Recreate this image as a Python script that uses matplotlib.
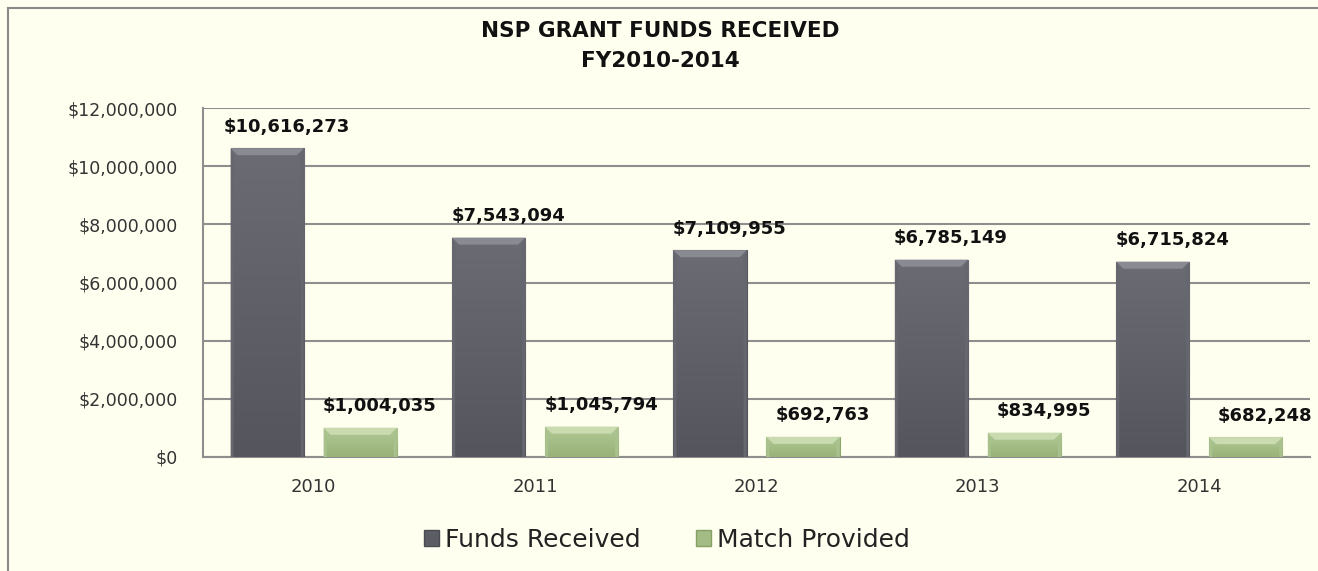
import matplotlib
matplotlib.use("Agg")
import matplotlib.pyplot as plt
import matplotlib.colors as mcolors
import numpy as np
from matplotlib.lines import Line2D
from matplotlib.patches import Patch, Polygon

years = ["2010", "2011", "2012", "2013", "2014"]
funds_received = [10616273, 7543094, 7109955, 6785149, 6715824]
match_provided = [1004035, 1045794, 692763, 834995, 682248]
series_names = ["Funds Received", "Match Provided"]
title_lines = ["NSP GRANT FUNDS RECEIVED", "FY2010-2014"]
y_ticks = [0, 2000000, 4000000, 6000000, 8000000, 10000000, 12000000]

bg = "#FFFFF0"
grid_c = "#8E8E8E"
funds_c = "#5C5D64"
match_c = "#A3BC85"

W, H = 1318, 571
fig = plt.figure(figsize=(W / 100, H / 100), dpi=100, facecolor=bg)

# outer chart frame (top and left visible)
fig.add_artist(Line2D([8 / W, 1.0], [1 - 8 / H, 1 - 8 / H], transform=fig.transFigure,
                      color="#8A8A8A", lw=1.5))
fig.add_artist(Line2D([8 / W, 8 / W], [0, 1 - 8 / H], transform=fig.transFigure,
                      color="#8A8A8A", lw=1.5))

ax = fig.add_axes([203 / W, 1 - 457 / H, (1310 - 203) / W, (457 - 108) / H])
ax.set_facecolor(bg)

x = np.arange(len(years))
bw = 0.33
off = 0.21
ax.set_xlim(-0.5, len(years) - 0.5)
ax.set_ylim(0, 12000000)

b1 = ax.bar(x - off, funds_received, bw, color=funds_c, edgecolor="#55565C", lw=0.8, zorder=3)
b2 = ax.bar(x + off, match_provided, bw, color=match_c, edgecolor="#8EA86C", lw=0.8, zorder=3)

# pixel -> data scale
p0 = ax.transData.transform((0, 0))
p1 = ax.transData.transform((1, 1e6))
px_x = 1.0 / (p1[0] - p0[0])
px_y = 1e6 / (p1[1] - p0[1])


def style_bars(bars, top_c, bot_c, bevel_c, side_c):
    tc = np.array(mcolors.to_rgb(top_c))
    bc = np.array(mcolors.to_rgb(bot_c))
    for r in bars:
        x0, y0 = r.get_x(), r.get_y()
        w, h = r.get_width(), r.get_height()
        t = np.linspace(1, 0, 32)[:, None, None]
        img = np.repeat(t * tc + (1 - t) * bc, 4, axis=1)
        im = ax.imshow(img, extent=[x0, x0 + w, y0, y0 + h], aspect="auto", zorder=3.5,
                       interpolation="bilinear")
        im.set_clip_path(r)
        d = 7
        dx, dy = d * px_x, d * px_y
        top = y0 + h
        # top bevel
        ax.add_patch(Polygon([(x0, top), (x0 + w, top), (x0 + w - dx, top - dy), (x0 + dx, top - dy)],
                             closed=True, color=bevel_c, lw=0, zorder=4))
        # side bevels
        sx = 3 * px_x
        ax.add_patch(Polygon([(x0, top), (x0 + sx, top - dy), (x0 + sx, y0), (x0, y0)],
                             closed=True, color=side_c, lw=0, zorder=4))
        ax.add_patch(Polygon([(x0 + w, top), (x0 + w - sx, top - dy), (x0 + w - sx, y0), (x0 + w, y0)],
                             closed=True, color=side_c, lw=0, zorder=4))


style_bars(b1, "#6B6C73", "#55565D", "#8A8B92", "#66676E")
style_bars(b2, "#B2C996", "#98B278", "#CADBB0", "#A9C18C")

ax.set_xlim(-0.5, len(years) - 0.5)
ax.set_ylim(0, 12000000)
ax.set_yticks(y_ticks)
ax.set_yticklabels(["${:,.0f}".format(v) for v in y_ticks], fontsize=12.5, color="#333333")
ax.set_xticks(x)
ax.set_xticklabels(years, fontsize=13, color="#333333")
ax.tick_params(axis="both", length=0)
ax.tick_params(axis="y", pad=18)
ax.tick_params(axis="x", pad=15)
ax.grid(axis="y", color=grid_c, lw=1.5, zorder=0)
for s in ("top", "right"):
    ax.spines[s].set_visible(False)
ax.spines["left"].set_color(grid_c)
ax.spines["left"].set_linewidth(1.5)
ax.spines["bottom"].set_color(grid_c)
ax.spines["bottom"].set_linewidth(1.5)

for bars, vals in ((b1, funds_received), (b2, match_provided)):
    for r, v in zip(bars, vals):
        ax.annotate("${:,.0f}".format(v), (r.get_x() + r.get_width() / 2, r.get_height()),
                    xytext=(14, 9), textcoords="offset points", ha="center", va="bottom",
                    fontsize=13, fontweight="bold", color="#111111", zorder=5)

fig.text(660 / W, 1 - 31 / H, title_lines[0], ha="center", va="center",
         fontsize=15.5, fontweight="bold", color="#111111")
fig.text(660 / W, 1 - 61 / H, title_lines[1], ha="center", va="center",
         fontsize=15.5, fontweight="bold", color="#111111")

handles = [Patch(facecolor=funds_c, edgecolor="#4A4B51"), Patch(facecolor=match_c, edgecolor="#86A064")]
fig.legend(handles, series_names, loc="center", bbox_to_anchor=(667 / W, 1 - 540 / H),
           ncol=2, frameon=False, fontsize=18, handlelength=0.6, handleheight=0.6,
           handletextpad=0.25, columnspacing=2.2, labelcolor="#222222")

fig.savefig("out.png", dpi=100, facecolor=bg)
